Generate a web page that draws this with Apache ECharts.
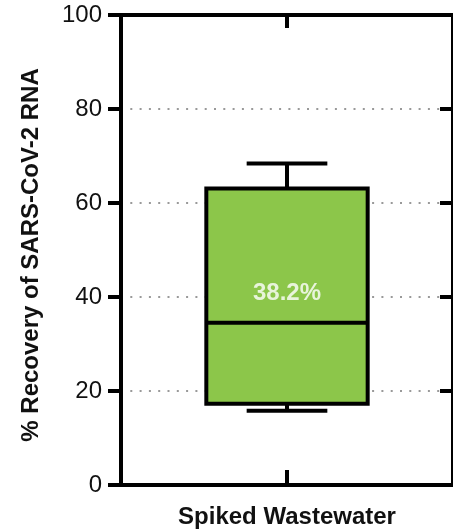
<!DOCTYPE html>
<html>
<head>
<meta charset="utf-8">
<script src="https://cdn.jsdelivr.net/npm/echarts@6/dist/echarts.min.js"></script>
<style>
  html, body { margin: 0; padding: 0; background: #fff; }
  #chart { width: 453px; height: 530px; }
</style>
</head>
<body>
<div id="chart"></div>
<script>
// Group on the x axis
const categories = ['Spiked Wastewater'];
// Box statistics per group: [min, Q1, median, Q3, max]
const boxStats = [[15.8, 17.3, 34.5, 63.1, 68.4]];
// Mean recovery per group, shown inside the box
const meanValues = [38.2];
// Y axis range and step
const yMin = 0, yMax = 100, yStep = 20;

const INK = '#111';
const FONT = '"Liberation Sans", Arial, Helvetica, sans-serif';

const boxData = boxStats.map((s, i) => [i].concat(s));
const meanData = meanValues.map((v, i) => [i, v]);

const chart = echarts.init(document.getElementById('chart'), null, { renderer: 'canvas' });

function renderBox(params, api) {
  const x = api.value(0);
  const pMin = api.coord([x, api.value(1)]);
  const pQ1 = api.coord([x, api.value(2)]);
  const pMed = api.coord([x, api.value(3)]);
  const pQ3 = api.coord([x, api.value(4)]);
  const pMax = api.coord([x, api.value(5)]);
  const band = api.size([1, 0])[0];
  const boxW = band * 0.486;
  const capW = boxW / 2;
  const cx = pMed[0];
  const lw = 4;
  const stroke = { stroke: '#000', lineWidth: lw };
  return {
    type: 'group',
    children: [
      // whisker stems
      { type: 'line', shape: { x1: cx, y1: pQ3[1], x2: cx, y2: pMax[1] }, style: stroke },
      { type: 'line', shape: { x1: cx, y1: pQ1[1], x2: cx, y2: pMin[1] }, style: stroke },
      // whisker caps
      { type: 'line', shape: { x1: cx - capW / 2, y1: pMax[1], x2: cx + capW / 2, y2: pMax[1] }, style: stroke },
      { type: 'line', shape: { x1: cx - capW / 2, y1: pMin[1], x2: cx + capW / 2, y2: pMin[1] }, style: stroke },
      // interquartile box
      {
        type: 'rect',
        shape: { x: cx - boxW / 2, y: pQ3[1], width: boxW, height: pQ1[1] - pQ3[1] },
        style: { fill: '#8cc64a', stroke: '#000', lineWidth: lw }
      },
      // median
      { type: 'line', shape: { x1: cx - boxW / 2, y1: pMed[1], x2: cx + boxW / 2, y2: pMed[1] }, style: stroke }
    ]
  };
}

const axisLine = { show: true, onZero: false, lineStyle: { color: '#000', width: 4 } };

chart.setOption({
  animation: false,
  backgroundColor: '#fff',
  grid: { left: 121, top: 15, width: 333, height: 470, containLabel: false },
  xAxis: [
    {
      type: 'category',
      position: 'bottom',
      data: categories,
      axisLine: axisLine,
      axisTick: { show: true, inside: true, length: 15, alignWithLabel: true, lineStyle: { color: '#000', width: 4 } },
      axisLabel: { color: INK, fontFamily: FONT, fontSize: 24, fontWeight: 'bold', margin: 20 },
      splitLine: { show: false }
    },
    {
      type: 'category',
      position: 'top',
      data: categories,
      axisLine: axisLine,
      axisTick: { show: true, inside: true, length: 13, alignWithLabel: true, lineStyle: { color: '#000', width: 4 } },
      axisLabel: { show: false },
      splitLine: { show: false }
    }
  ],
  yAxis: [
    {
      type: 'value',
      position: 'left',
      min: yMin, max: yMax, interval: yStep,
      name: '% Recovery of SARS-CoV-2 RNA',
      nameLocation: 'middle',
      nameGap: 78,
      nameTextStyle: { color: INK, fontFamily: FONT, fontSize: 24, fontWeight: 'bold', padding: [0, 10, 0, 0] },
      axisLine: axisLine,
      axisTick: { show: true, inside: false, length: 13, lineStyle: { color: '#000', width: 4 } },
      axisLabel: { color: INK, fontFamily: FONT, fontSize: 24, margin: 19 },
      splitLine: { show: true, showMinLine: false, showMaxLine: false, lineStyle: { color: '#999', width: 2, type: [2, 7.3] } }
    },
    {
      type: 'value',
      position: 'right',
      min: yMin, max: yMax, interval: yStep,
      axisLine: axisLine,
      axisTick: { show: true, inside: true, length: 13, lineStyle: { color: '#000', width: 4 } },
      axisLabel: { show: false },
      splitLine: { show: false }
    }
  ],
  series: [
    {
      type: 'custom',
      name: 'Recovery',
      xAxisIndex: 0,
      yAxisIndex: 0,
      renderItem: renderBox,
      encode: { x: 0, y: [1, 2, 3, 4, 5] },
      data: boxData,
      z: 3
    },
    {
      type: 'scatter',
      name: 'Mean',
      xAxisIndex: 0,
      yAxisIndex: 0,
      symbolSize: 0,
      data: meanData,
      z: 5,
      label: {
        show: true,
        position: 'inside',
        offset: [0, -12],
        formatter: p => p.value[1].toFixed(1) + '%',
        color: '#fff',
        fontFamily: FONT,
        fontSize: 24,
        fontWeight: 'bold'
      }
    }
  ]
});
</script>
</body>
</html>
